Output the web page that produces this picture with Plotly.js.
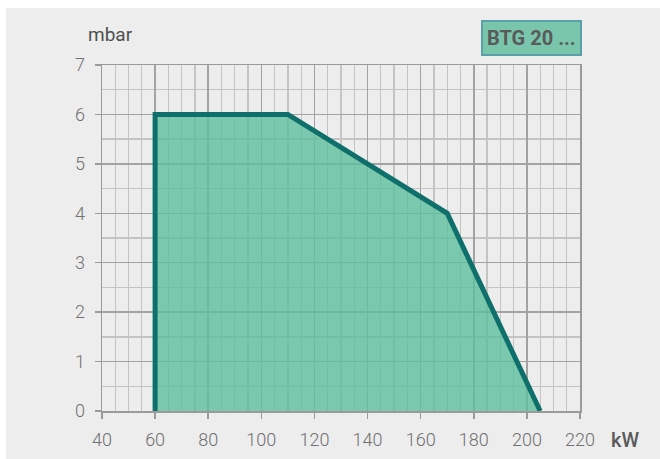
<!DOCTYPE html>
<html>
<head>
<meta charset="utf-8">
<script src="https://cdn.plot.ly/plotly-3.0.1.min.js"></script>
<style>
  html, body { margin: 0; padding: 0; background: #ffffff; width: 660px; height: 459px; overflow: hidden; }
  #chart { position: absolute; left: 6px; top: 8px; width: 654px; height: 451px; }
</style>
</head>
<body>
<div id="chart"></div>
<script>
// Data (working range of the burner)
const powerKW = [60, 60, 110, 170, 205];
const pressureMbar = [0, 6, 6, 4, 0];
const xTicks = [40, 60, 80, 100, 120, 140, 160, 180, 200, 220];
const yTicks = [0, 1, 2, 3, 4, 5, 6, 7];
const xUnit = 'kW';
const yUnit = 'mbar';
const modelLabel = 'BTG 20 ...';

const FONT = 'Roboto, "DejaVu Sans", sans-serif';
const BG = '#ededed';

const trace = {
  x: powerKW,
  y: pressureMbar,
  type: 'scatter',
  mode: 'lines',
  fill: 'toself',
  fillcolor: 'rgba(92,190,157,0.8)',
  line: { color: '#0f706b', width: 5, shape: 'linear' },
  hoverinfo: 'skip',
  showlegend: false,
  cliponaxis: false
};

const layout = {
  width: 654,
  height: 451,
  margin: { l: 96, r: 80, t: 57, b: 48, pad: 0 },
  paper_bgcolor: BG,
  plot_bgcolor: BG,
  font: { family: FONT, size: 18, color: '#707070' },
  showlegend: false,
  xaxis: {
    range: [40, 220],
    tickvals: xTicks,
    ticktext: xTicks.map(String),
    ticks: 'outside',
    ticklen: 6,
    tickwidth: 1.5,
    tickcolor: '#9a9a9a',
    showgrid: true,
    gridcolor: '#a3a3a3',
    gridwidth: 1.5,
    minor: { dtick: 5, tick0: 40, showgrid: true, gridcolor: '#c4c4c4', gridwidth: 1.3, ticks: '' },
    showline: true,
    linecolor: '#9a9a9a',
    linewidth: 1.5,
    mirror: true,
    zeroline: false,
    fixedrange: true,
    ticklabelstandoff: 6,
    tickfont: { family: FONT, size: 18, color: '#707070', weight: 300 }
  },
  yaxis: {
    range: [0, 7],
    tickvals: yTicks,
    ticktext: yTicks.map(String),
    ticks: 'outside',
    ticklen: 6,
    tickwidth: 1.5,
    tickcolor: '#9a9a9a',
    showgrid: true,
    gridcolor: '#a3a3a3',
    gridwidth: 1.5,
    minor: { dtick: 0.5, tick0: 0, showgrid: true, gridcolor: '#c4c4c4', gridwidth: 1.3, ticks: '' },
    showline: true,
    linecolor: '#9a9a9a',
    linewidth: 1.5,
    mirror: true,
    zeroline: false,
    fixedrange: true,
    ticklabelstandoff: 6,
    tickfont: { family: FONT, size: 18, color: '#707070', weight: 300 }
  },
  annotations: [
    {
      text: yUnit, xref: 'paper', yref: 'paper', x: 0, xshift: 8, y: 1.0, yshift: 31,
      xanchor: 'center', yanchor: 'middle', showarrow: false,
      font: { family: FONT, size: 19, color: '#505050' }
    },
    {
      text: xUnit, xref: 'paper', yref: 'paper', x: 1.0, xshift: 29, y: 0, yshift: -29,
      xanchor: 'left', yanchor: 'middle', showarrow: false,
      font: { family: FONT, size: 20, color: '#5a5a5a', weight: 500 }
    },
    {
      text: '<b>' + modelLabel + '</b>', xref: 'paper', yref: 'paper', x: 1.0, xshift: 2, y: 1.0, yshift: 27,
      xanchor: 'right', yanchor: 'middle', showarrow: false,
      bgcolor: '#79c6ad', bordercolor: '#5b9fa8', borderwidth: 2, borderpad: 4,
      font: { family: FONT, size: 20, color: '#5a5a5a' }
    }
  ]
};

Plotly.newPlot('chart', [trace], layout, { displayModeBar: false, staticPlot: true });
</script>
</body>
</html>
